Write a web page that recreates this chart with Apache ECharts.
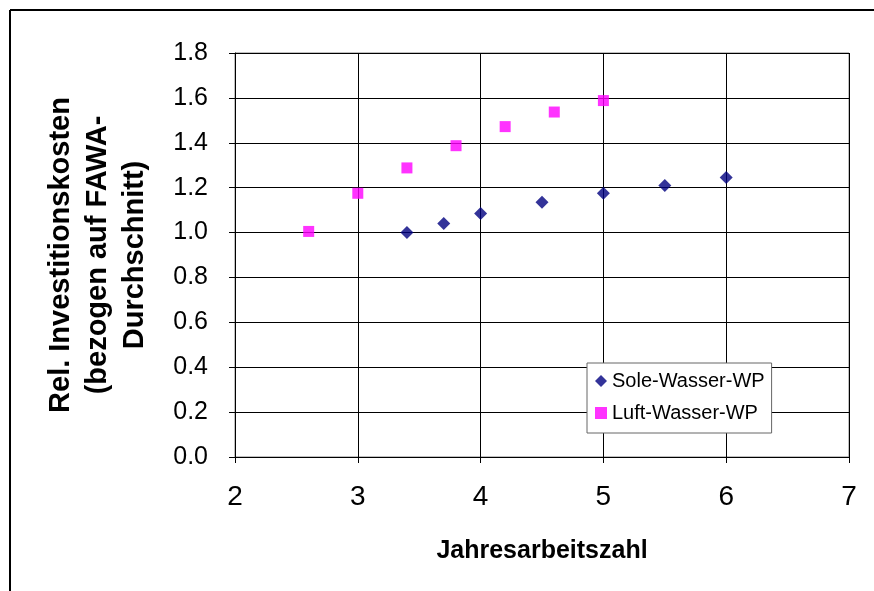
<!DOCTYPE html>
<html>
<head>
<meta charset="utf-8">
<script src="https://cdn.jsdelivr.net/npm/echarts@6/dist/echarts.min.js"></script>
<style>
  html, body { margin: 0; padding: 0; background: #fff; }
  #chart { width: 874px; height: 591px; }
</style>
</head>
<body>
<div id="chart"></div>
<script>
// Sole-Wasser-WP
const soleX = [3.4, 3.7, 4.0, 4.5, 5.0, 5.5, 6.0]
const soleY = [1.0, 1.04, 1.085, 1.135, 1.175, 1.21, 1.245]
// Luft-Wasser-WP
const luftX = [2.6, 3.0, 3.4, 3.8, 4.2, 4.6, 5.0]
const luftY = [1.005, 1.175, 1.288, 1.387, 1.472, 1.537, 1.588]

const font = 'Liberation Sans, Arial, sans-serif'

const chart = echarts.init(document.getElementById('chart'))

const option = {
  backgroundColor: '#fff',
  animation: false,
  grid: {
    left: 235,
    right: 25,
    top: 53,
    bottom: 134,
    show: true,
    borderColor: '#808080',
    borderWidth: 1
  },
  // outer frame (only top/left edges visible)
  graphic: [
    { type: 'line', shape: { x1: 10, y1: 10, x2: 874, y2: 10 }, style: { stroke: '#000', lineWidth: 2 } },
    { type: 'line', shape: { x1: 10, y1: 10, x2: 10, y2: 591 }, style: { stroke: '#000', lineWidth: 2 } }
  ],
  legend: {
    left: 587,
    top: 363,
    orient: 'vertical',
    backgroundColor: '#fff',
    borderColor: '#666',
    borderWidth: 1,
    padding: [8, 7, 10, 8],
    itemGap: 12,
    itemWidth: 12,
    itemHeight: 12,
    textStyle: { fontFamily: font, fontSize: 20, color: '#000' },
    data: [
      { name: 'Sole-Wasser-WP', icon: 'diamond' },
      { name: 'Luft-Wasser-WP', icon: 'rect' }
    ]
  },
  xAxis: {
    type: 'value',
    min: 2,
    max: 7,
    interval: 1,
    name: 'Jahresarbeitszahl',
    nameLocation: 'middle',
    nameGap: 82,
    nameTextStyle: { fontFamily: font, fontSize: 25, fontWeight: 'bold', color: '#000' },
    axisLine: { show: true, onZero: false, lineStyle: { color: '#000', width: 1 } },
    axisTick: { show: true, inside: false, length: 6, lineStyle: { color: '#000' } },
    axisLabel: { margin: 26, fontFamily: font, fontSize: 28, color: '#000' },
    splitLine: { show: true, lineStyle: { color: '#000', width: 1 } }
  },
  yAxis: {
    type: 'value',
    min: 0,
    max: 1.8,
    interval: 0.2,
    name: 'Rel. Investitionskosten\n(bezogen auf FAWA-\nDurchschnitt)',
    nameLocation: 'middle',
    nameRotate: 90,
    nameGap: 82,
    nameTextStyle: { fontFamily: font, fontSize: 29, fontWeight: 'bold', color: '#000', lineHeight: 37, align: 'center' },
    axisLine: { show: true, lineStyle: { color: '#000', width: 1 } },
    axisTick: { show: true, inside: false, length: 6, lineStyle: { color: '#000' } },
    axisLabel: {
      margin: 27,
      fontFamily: font,
      fontSize: 25,
      color: '#000',
      formatter: v => v.toFixed(1)
    },
    splitLine: { show: true, lineStyle: { color: '#000', width: 1 } }
  },
  series: [
    {
      name: 'Sole-Wasser-WP',
      type: 'scatter',
      symbol: 'diamond',
      symbolSize: 13,
      itemStyle: { color: '#000080' },
      data: soleX.map((x, i) => [x, soleY[i]])
    },
    {
      name: 'Luft-Wasser-WP',
      type: 'scatter',
      symbol: 'rect',
      symbolSize: 11,
      itemStyle: { color: '#ff00ff' },
      data: luftX.map((x, i) => [x, luftY[i]])
    }
  ]
}

chart.setOption(option)
</script>
</body>
</html>
